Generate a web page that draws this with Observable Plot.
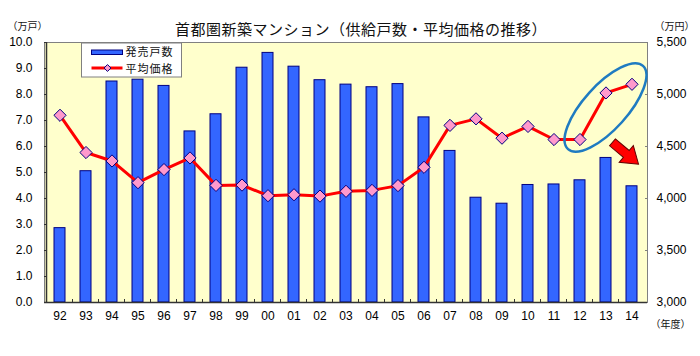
<!DOCTYPE html>
<html><head><meta charset="utf-8">
<script src="https://cdn.jsdelivr.net/npm/d3@7"></script>
<script src="https://cdn.jsdelivr.net/npm/@observablehq/plot@0.6"></script>
<style>
body{margin:0;background:#fff;}
svg{display:block;}
</style></head>
<body><div id="chart"></div>
<script>
const years = ["92","93","94","95","96","97","98","99","00","01","02","03","04","05","06","07","08","09","10","11","12","13","14"];
const units = [2.86,5.05,8.50,8.57,8.33,6.58,7.24,9.03,9.60,9.07,8.55,8.38,8.28,8.40,7.12,5.83,4.03,3.80,4.52,4.54,4.70,5.56,4.47];
const prices = [4800,4442,4361,4152,4278,4390,4126,4129,4027,4036,4023,4069,4078,4124,4300,4703,4766,4580,4693,4567,4567,5015,5098];
const leftTicks = [0,1,2,3,4,5,6,7,8,9,10];
const rightTicks = [3000,3500,4000,4500,5000,5500];
const title = "首都圏新築マンション（供給戸数・平均価格の推移）";
const leftUnit = "（万戸）", rightUnit = "（万円）", xUnit = "（年度）";
const legendLabels = ["発売戸数","平均価格"];

const P0 = 3000, P1 = 5500, U1 = 10;
const p2y = p => (p - P0) / (P1 - P0) * U1;
const data = years.map((y,i)=>({year:y, units:units[i], price:prices[i], py:p2y(prices[i])}));

const num = "Liberation Sans, Arial, sans-serif";
const cjk = "Noto Sans CJK JP, sans-serif";

const chart = Plot.plot({
  width:700, height:356,
  marginLeft:44, marginRight:53, marginTop:42, marginBottom:54,
  style:{fontFamily:num, fontSize:"12px", color:"#000", background:"#fff"},
  x:{domain:years, paddingInner:0.58, paddingOuter:0.29, label:null},
  y:{domain:[0,U1], label:null},
  marks:[
    Plot.frame({fill:"#ffffcc", stroke:"#808080"}),
    Plot.barY(data,{x:"year", y:"units", fill:"#3366ff", stroke:"#000080", strokeWidth:1}),
    Plot.line(data,{x:"year", y:"py", stroke:"#ff0000", strokeWidth:3, curve:"linear"}),
    Plot.dot(data,{x:"year", y:"py", symbol:"diamond2", r:5.5, fill:"#ff99cc", stroke:"#000080", strokeWidth:1}),
    Plot.axisY(leftTicks,{anchor:"left", tickSize:-3, tickPadding:15, tickFormat:d3.format(".1f"), fontSize:12, fill:"#000", stroke:"#333"}),
    Plot.axisY(rightTicks.map(p2y),{anchor:"right", tickSize:-3, tickPadding:12, tickFormat:v=>d3.format(",")(Math.round(P0 + v/U1*(P1-P0))), fontSize:12, fill:"#000", textAnchor:"start", stroke:"#808080"}),
    Plot.axisX({anchor:"bottom", tickSize:0, tickPadding:9, fontSize:12, fill:"#000"}),
    Plot.ruleY([0],{stroke:"#333", strokeWidth:1.5}),
    Plot.text([title],{frameAnchor:"top", dy:-18, dx:15, fontFamily:cjk, fontSize:15, fill:"#111"}),
    Plot.text([leftUnit],{frameAnchor:"top-left", dx:-37, dy:-20, textAnchor:"start", fontFamily:cjk, fontSize:10, fill:"#111"}),
    Plot.text([rightUnit],{frameAnchor:"top-right", dx:7, dy:-20, textAnchor:"start", fontFamily:cjk, fontSize:10, fill:"#111"}),
    Plot.text([xUnit],{frameAnchor:"bottom-right", dx:3, dy:25, textAnchor:"start", fontFamily:cjk, fontSize:10, fill:"#111"})
  ]
});
document.getElementById("chart").append(chart);

// letter spacing on the title
const svg = d3.select(chart);
svg.selectAll("text").filter(function(){return this.textContent === title;}).attr("letter-spacing","0.5px");

// decorations using the chart's own scales
const xs = chart.scale("x"), ys = chart.scale("y");
const cx = v => xs.apply(v) + xs.bandwidth/2;
const step = xs.step;
const g = svg.append("g").attr("text-anchor","start");
const yb = ys.apply(0), yt = ys.apply(U1);
const x0 = xs.apply(years[0]) - (step - xs.bandwidth)/2;
// left axis line
g.append("line").attr("x1",x0).attr("x2",x0).attr("y1",yt).attr("y2",yb).attr("stroke","#333").attr("stroke-width",1.5);
// bottom boundary ticks (inward)
years.slice(1).forEach(y=>{
  const x = xs.apply(y) - (step - xs.bandwidth)/2;
  g.append("line").attr("x1",x).attr("x2",x).attr("y1",yb).attr("y2",yb-3).attr("stroke","#333");
});
// legend
const lx = cx("92") + 22, ly = yt + 1;
const lg = g.append("g").attr("transform",`translate(${lx},${ly})`);
lg.append("rect").attr("x",0).attr("y",0).attr("width",100).attr("height",34).attr("fill","#fff").attr("stroke","#808080");
lg.append("rect").attr("x",10).attr("y",7).attr("width",31).attr("height",4.5).attr("fill","#3366ff").attr("stroke","#000080");
lg.append("line").attr("x1",10).attr("x2",41).attr("y1",25).attr("y2",25).attr("stroke","#ff0000").attr("stroke-width",3);
lg.append("path").attr("d",d3.symbol(d3.symbolDiamond2, 30)()).attr("transform","translate(26,25)").attr("fill","#ff99cc").attr("stroke","#000080");
legendLabels.forEach((t,i)=>{
  lg.append("text").attr("x",44).attr("y",9+17*i).attr("dy","0.36em").attr("text-anchor","start")
    .attr("font-family",cjk).attr("font-size",11).attr("letter-spacing","1px").attr("fill","#111").text(t);
});
// ellipse around the last three prices
const ex = cx("13"), ey = ys.apply(p2y(4870));
g.append("ellipse").attr("cx",0).attr("cy",0).attr("rx",56).attr("ry",22)
  .attr("transform",`translate(${ex},${ey}) rotate(-48)`)
  .attr("fill","none").attr("stroke","#1f7bc1").attr("stroke-width",2.5);
// red arrow
const ax = cx("14") - 6, ay = ys.apply(p2y(4430));
g.append("path").attr("d","M-17,-4.5L1,-4.5L1,-11L17,0L1,11L1,4.5L-17,4.5Z")
  .attr("transform",`translate(${ax},${ay}) rotate(40)`)
  .attr("fill","#ff0000").attr("stroke","#600000").attr("stroke-width",1);
</script></body></html>
